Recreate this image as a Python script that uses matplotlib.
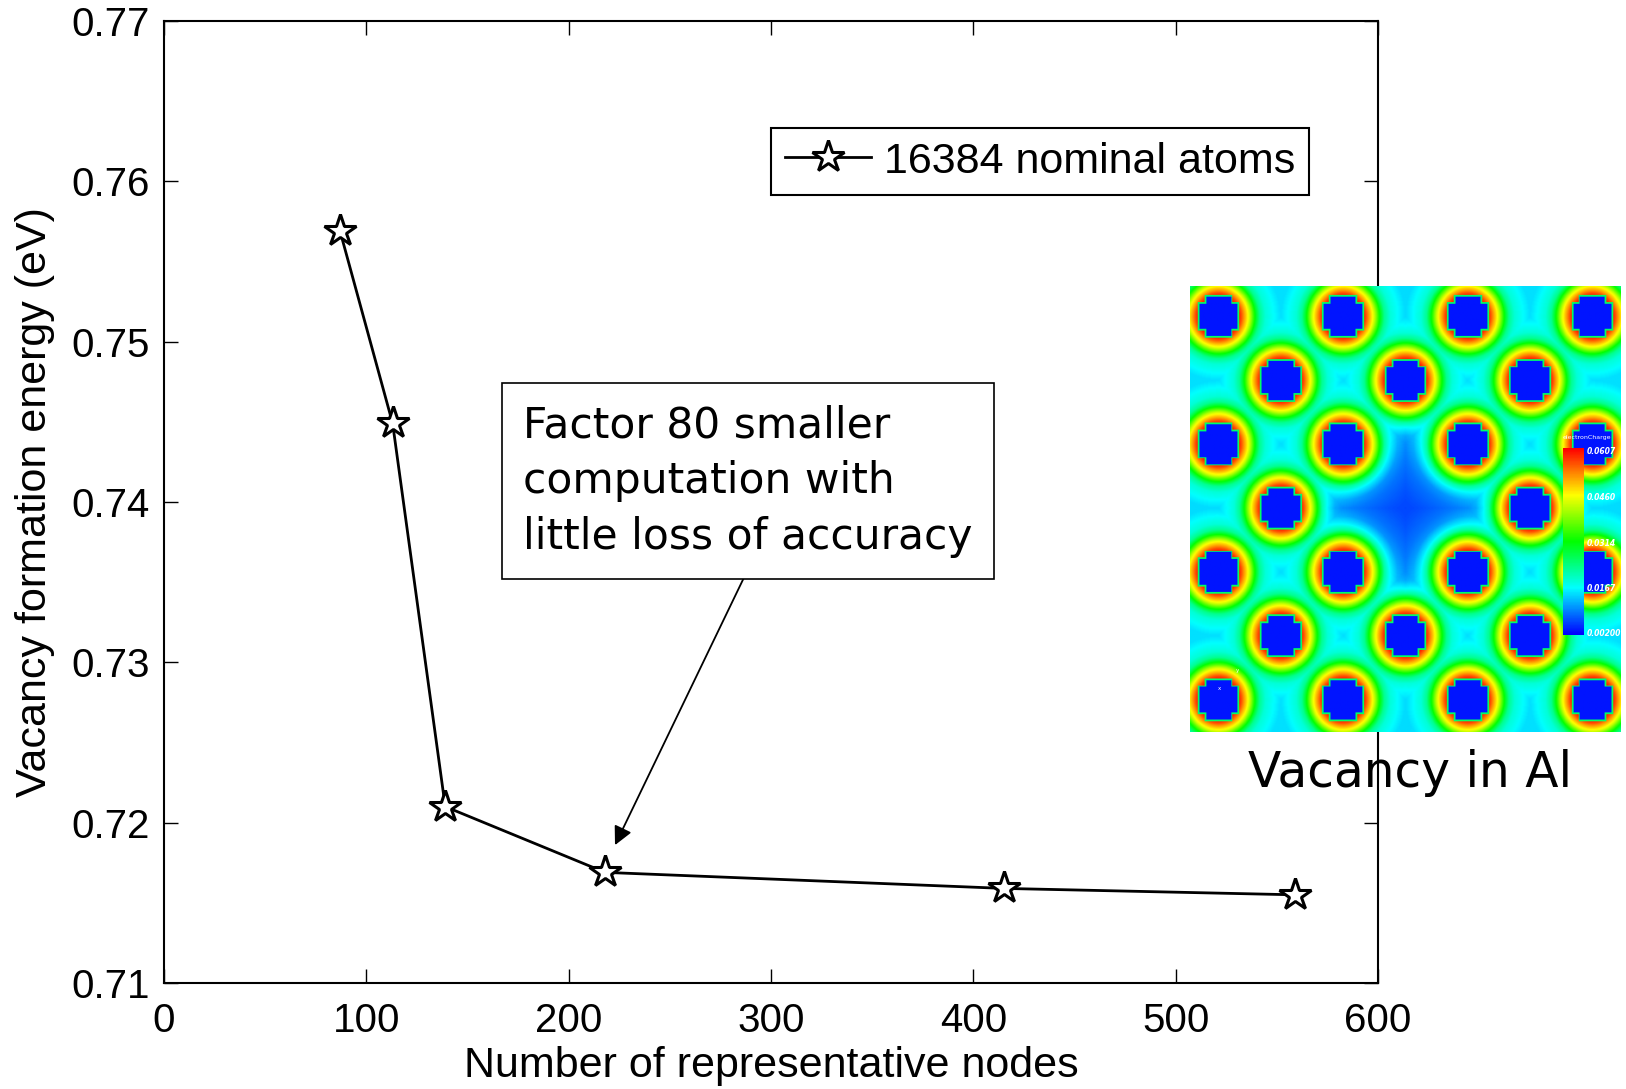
import numpy as np
import matplotlib
matplotlib.use("Agg")
import matplotlib.pyplot as plt
from matplotlib.colors import LinearSegmentedColormap

# data
nodes = [87, 113, 139, 218, 415, 559]
energy = [0.7569, 0.7449, 0.7210, 0.7169, 0.7159, 0.7155]
series_label = "16384 nominal atoms"
xticks = [0, 100, 200, 300, 400, 500, 600]
yticks = [0.71, 0.72, 0.73, 0.74, 0.75, 0.76, 0.77]
note_text = "Factor 80 smaller\ncomputation with\nlittle loss of accuracy"
cbar_labels = ["0.0607", "0.0460", "0.0314", "0.0167", "0.00200"]

W, H, DPI = 1626, 1089, 100
fig = plt.figure(figsize=(W / DPI, H / DPI), dpi=DPI)

# main axes (pixel box 164..1378 x 21..983)
ax = fig.add_axes([164 / W, 1 - 983 / H, (1378 - 164) / W, (983 - 21) / H])
tick_font = dict(family="Liberation Sans", size=29)
label_font = dict(family="Liberation Sans", size=31)

ax.plot(nodes, energy, color="black", lw=2, marker="*", markersize=24,
        markerfacecolor="white", markeredgecolor="black", markeredgewidth=2.2,
        label=series_label)
ax.set_xlim(0, 600)
ax.set_ylim(0.71, 0.77)
ax.set_xticks(xticks)
ax.set_yticks(yticks)
ax.set_xticklabels([str(v) for v in xticks], **tick_font)
ax.set_yticklabels([f"{v:.2f}" for v in yticks], **tick_font)
ax.tick_params(axis="x", pad=14)
ax.tick_params(axis="y", pad=10)
ax.tick_params(direction="in", length=10, width=1, top=True, right=True)
for s in ax.spines.values():
    s.set_linewidth(1.5)
ax.set_xlabel("Number of representative nodes", labelpad=4, **label_font)
ax.set_ylabel("Vacancy formation energy (eV)", labelpad=12, **label_font)

leg = ax.legend(loc="upper right", bbox_to_anchor=(0.943, 0.889),
                prop=dict(family="Liberation Sans", size=31), fancybox=False,
                framealpha=1, edgecolor="black", borderpad=0.32,
                handlelength=2.0, handletextpad=0.3, borderaxespad=0)
leg.get_frame().set_linewidth(1.5)

# note box with arrow
ax.annotate("", xy=(222.9, 0.7186), xytext=(286.7, 0.7353),
            arrowprops=dict(arrowstyle="-|>", color="black", lw=1.3,
                            mutation_scale=28, shrinkA=0, shrinkB=0))
fig.text(523 / W, 1 - 481 / H, note_text, family="DejaVu Sans", size=30.5,
         va="center", ha="left", linespacing=1.42,
         bbox=dict(boxstyle="square,pad=0.5", fc="white", ec="black", lw=1.2))

# inset: charge density picture of a vacancy in Al (rainbow map, blue -> red)
rainbow = LinearSegmentedColormap.from_list(
    "rainbow5", ["#0000ff", "#00ffff", "#00ff00", "#ffff00", "#ff0000"])
ix0, ix1, iy0, iy1 = 1190, 1621, 286, 732
iax = fig.add_axes([ix0 / W, 1 - iy1 / H, (ix1 - ix0) / W, (iy1 - iy0) / H])
n = 500
gx = np.linspace(-0.45, 6.45, n)
gy = np.linspace(-0.47, 6.5, n)
X, Y = np.meshgrid(gx, gy)
atoms = [(c, r) for r in range(7) for c in range(7)
         if (c + r) % 2 == 0 and not (c == 3 and r == 3)]
d = np.full(X.shape, 10.0)
core = np.zeros(X.shape, dtype=bool)
rim = np.zeros(X.shape, dtype=bool)
for c, r in atoms:
    ax_, ay_ = np.abs(X - c), np.abs(Y - r)
    d = np.minimum(d, np.hypot(ax_, ay_))
    hi, lo = np.maximum(ax_, ay_), np.minimum(ax_, ay_)
    core |= (hi < 0.31) & (lo < 0.20)
    rim |= (hi < 0.335) & (lo < 0.225)
field = np.interp(d, [0, 0.33, 0.37, 0.41, 0.46, 0.50, 0.55, 0.60, 0.66, 0.75, 1.0],
                  [0.97, 0.97, 0.92, 0.85, 0.77, 0.70, 0.58, 0.47, 0.36, 0.29, 0.22])
field = np.where(rim, 0.4, field)
field = np.where(core, 0.02, field)
vx, vy = np.abs(X - 3), np.abs(Y - 3)
star = (vx ** 0.8 + vy ** 0.8) / 1.3
dip = np.exp(-star ** 2.0) * np.clip((d - 0.62) / 0.25, 0, 1)
field = field - dip * (field - 0.07)
iax.imshow(field, cmap=rainbow, vmin=0, vmax=1, extent=(0, 1, 0, 1),
           origin="upper", aspect="auto", interpolation="bilinear")
iax.set_xlim(0, 1)
iax.set_ylim(0, 1)
iax.axis("off")

# tiny colour bar inside the picture
cax = fig.add_axes([1563 / W, 1 - 635 / H, 21 / W, 187 / H])
cax.imshow(np.linspace(1, 0, 200)[:, None], cmap=rainbow, vmin=0, vmax=1,
           aspect="auto", extent=(0, 1, 0, 1))
cax.axis("off")
for i, lab in enumerate(cbar_labels):
    fig.text(1587 / W, 1 - (452 + i * 45.5) / H, lab, color="white",
             style="italic", weight="bold", size=5.5, va="center", ha="left")
fig.text(1563 / W, 1 - 437 / H, "electronCharge", color="white", size=4.5,
         va="center", ha="left")
# small axis triad
fig.text(1218 / W, 1 - 690 / H, "x", color="white", size=4)
fig.text(1236 / W, 1 - 672 / H, "y", color="white", size=4)

fig.text(1410 / W, 1 - 773 / H, "Vacancy in Al", family="DejaVu Sans", size=35,
         ha="center", va="center")

fig.savefig("out.png", dpi=DPI)
